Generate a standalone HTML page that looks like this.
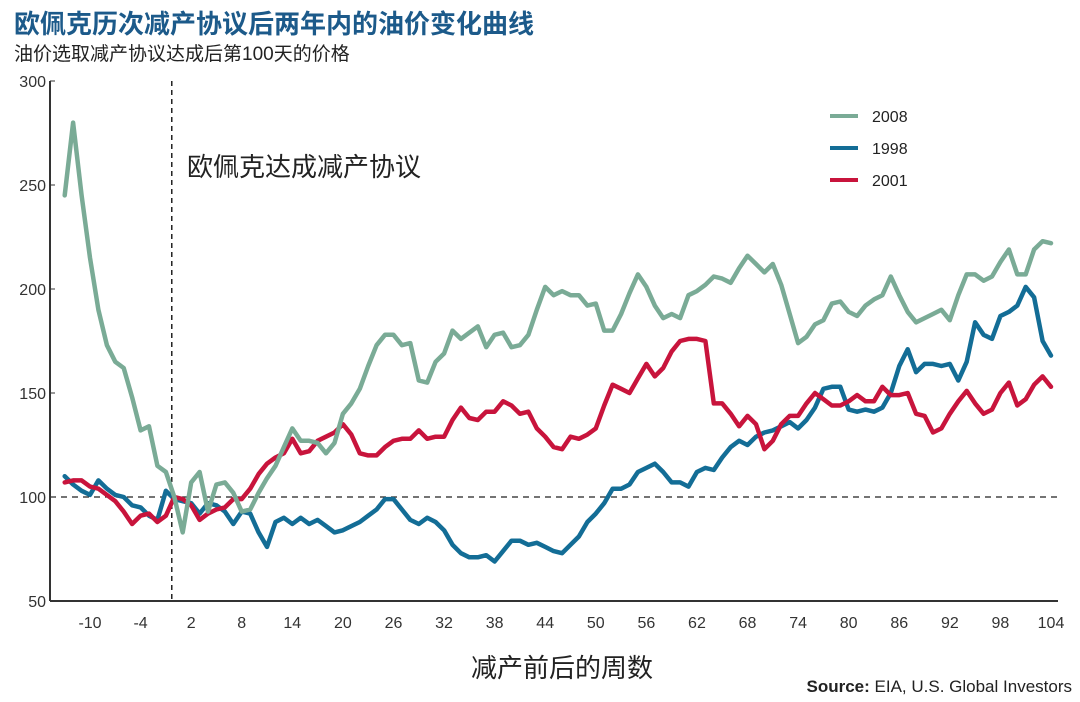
<!DOCTYPE html>
<html><head><meta charset="utf-8"><style>
body{margin:0;background:#fff;width:1080px;height:702px;overflow:hidden;font-family:"Liberation Sans","Noto Sans CJK SC",sans-serif}
svg{position:absolute;left:0;top:0}
</style></head><body>
<svg width="1080" height="702" id="chart">
<text x="14" y="33" font-size="26" font-weight="bold" fill="#1c5a8a" font-family="Liberation Sans, Noto Sans CJK SC, sans-serif">欧佩克历次减产协议后两年内的油价变化曲线</text>
<text x="14" y="60" font-size="19" fill="#222" font-family="Liberation Sans, Noto Sans CJK SC, sans-serif">油价选取减产协议达成后第100天的价格</text>
<text x="187" y="176" font-size="26" fill="#222" font-family="Liberation Sans, Noto Sans CJK SC, sans-serif">欧佩克达成减产协议</text>
<text x="562" y="677" font-size="26" fill="#222" text-anchor="middle" font-family="Liberation Sans, Noto Sans CJK SC, sans-serif">减产前后的周数</text>
<text x="1072" y="692" font-size="17" fill="#222" text-anchor="end"><tspan font-weight="bold">Source:</tspan> EIA, U.S. Global Investors</text>
<g id="plot"></g>
<g>
<line x1="830" y1="116" x2="858" y2="116" stroke="#7aab96" stroke-width="4"/>
<text x="872" y="122" font-size="16" fill="#222">2008</text>
<line x1="830" y1="148" x2="858" y2="148" stroke="#136d96" stroke-width="4"/>
<text x="872" y="154" font-size="16" fill="#222">1998</text>
<line x1="830" y1="180" x2="858" y2="180" stroke="#c8143c" stroke-width="4"/>
<text x="872" y="186" font-size="16" fill="#222">2001</text>
</g>
</svg>
<script>
const startWeek = -13;
const xTicks = [-10,-4,2,8,14,20,26,32,38,44,50,56,62,68,74,80,86,92,98,104];
const yTicks = [50,100,150,200,250,300];
const series2008 = [245,280,245,215,190,173,165,162,148,132,134,115,112,100,83,107,112,93,106,107,102,93,94,102,109,115,124,133,127,127,126,121,126,140,145,152,163,173,178,178,173,174,156,155,165,169,180,176,179,182,172,178,179,172,173,178,190,201,197,199,197,197,192,193,180,180,188,198,207,201,192,186,188,186,197,199,202,206,205,203,210,216,212,208,212,202,188,174,177,183,185,193,194,189,187,192,195,197,206,197,189,184,186,188,190,185,197,207,207,204,206,213,219,207,207,219,223,222];
const series1998 = [110,106,103,101,108,104,101,100,96,95,91,89,103,99,98,97,92,97,96,93,87,93,92,83,76,88,90,87,90,87,89,86,83,84,86,88,91,94,99,99,94,89,87,90,88,84,77,73,71,71,72,69,74,79,79,77,78,76,74,73,77,81,88,92,97,104,104,106,112,114,116,112,107,107,105,112,114,113,119,124,127,125,129,131,132,134,136,133,137,143,152,153,153,142,141,142,141,143,150,163,171,160,164,164,163,164,156,165,184,178,176,187,189,192,201,196,175,168];
const series2001 = [107,108,108,105,104,101,98,93,87,91,92,88,91,100,99,96,89,92,94,95,99,99,104,111,116,119,121,128,121,122,127,129,131,135,130,121,120,120,124,127,128,128,132,128,129,129,137,143,138,137,141,141,146,144,140,141,133,129,124,123,129,128,130,133,144,154,152,150,157,164,158,162,170,175,176,176,175,145,145,140,134,139,135,123,127,135,139,139,145,150,147,144,144,146,149,146,146,153,149,149,150,140,139,131,133,140,146,151,145,140,142,150,155,144,147,154,158,153];
const agreementWeek = -0.3;
const baseline = 100;

const NS='http://www.w3.org/2000/svg';
const plot=document.getElementById('plot');
const xs=w=>90+(w+10)*(1051-90)/114;
const ys=v=>601-(v-50)*520/250;
function mk(tag,attrs){const e=document.createElementNS(NS,tag);for(const k in attrs)e.setAttribute(k,attrs[k]);plot.appendChild(e);return e;}

let e=mk('line',{x1:50,y1:ys(baseline),x2:1058,y2:ys(baseline),stroke:'#222','stroke-width':1.3,'stroke-dasharray':'6,5'});


e=mk('line',{x1:xs(agreementWeek),y1:81,x2:xs(agreementWeek),y2:601,stroke:'#222','stroke-width':1.5,'stroke-dasharray':'5,4'});



yTicks.forEach(v=>{
  const t=mk('text',{x:46,y:ys(v)+6,'font-size':16,fill:'#333','text-anchor':'end'});
  t.textContent=v;
  
  
  const l=mk('line',{x1:50,y1:ys(v),x2:55,y2:ys(v),stroke:'#333','stroke-width':1});
  
  
});
xTicks.forEach(w=>{
  const t=mk('text',{x:xs(w),y:628,'font-size':16,fill:'#333','text-anchor':'middle'});
  t.textContent=w;
  
  
});
e=mk('line',{x1:50,y1:81,x2:50,y2:601,stroke:'#333','stroke-width':2});


e=mk('line',{x1:50,y1:601,x2:1058,y2:601,stroke:'#333','stroke-width':2});



function line(data,color,name){
  const pts=data.map((v,i)=>xs(startWeek+i).toFixed(1)+','+ys(v).toFixed(1)).join(' ');
  const p=mk('polyline',{points:pts,fill:'none',stroke:color,'stroke-width':4.5,'stroke-linejoin':'round','stroke-linecap':'round'});
  
  
}
line(series1998,'#136d96','series-1998-line');
line(series2001,'#c8143c','series-2001-line');
line(series2008,'#7aab96','series-2008-line');
</script>
</body></html>
